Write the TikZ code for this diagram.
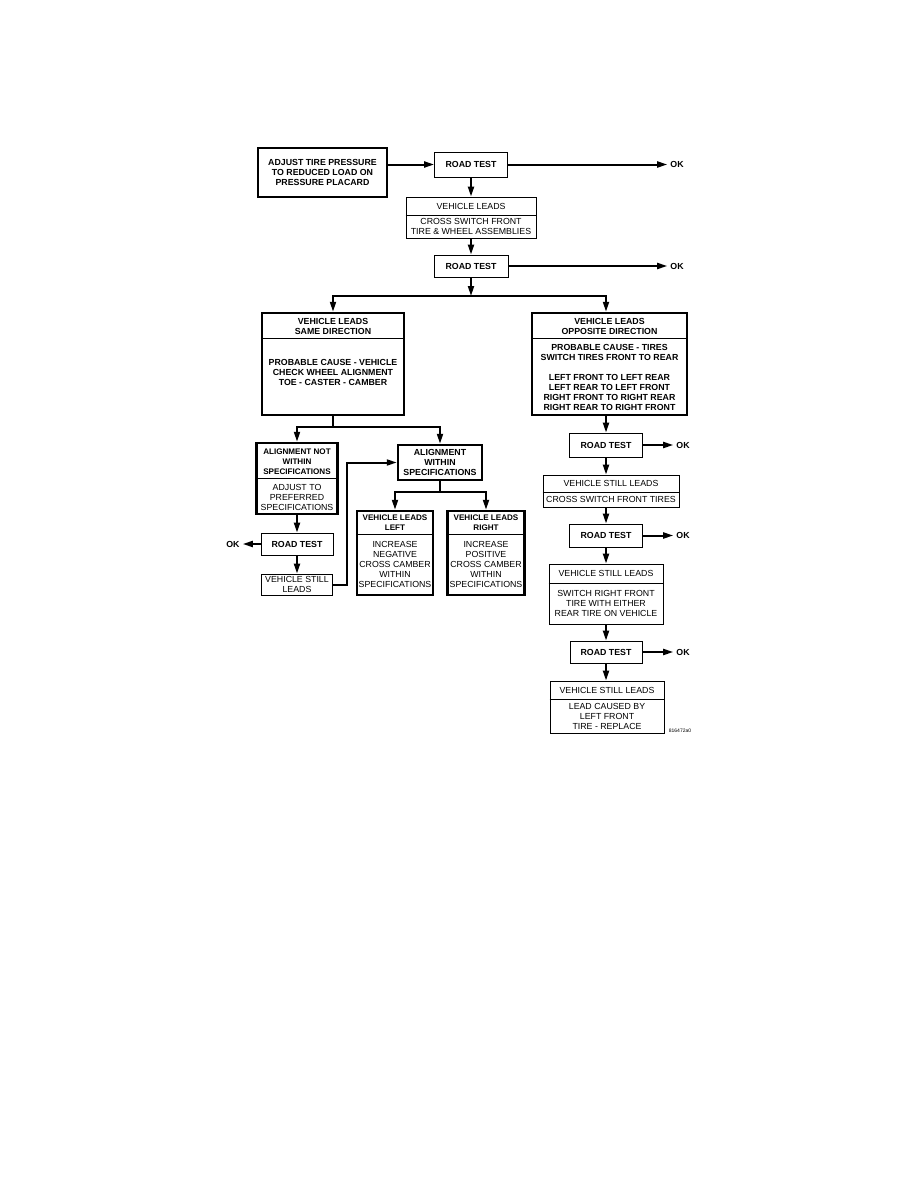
\documentclass[tikz,border=0pt]{standalone}
\usepackage{fontspec}
\setmainfont{Liberation Sans}
\usetikzlibrary{arrows.meta}

\begin{document}
\begin{tikzpicture}[x=1pt,y=-1pt,
    font=\fontsize{8.8}{10}\selectfont,
    thickbox/.style={draw,line width=2.5pt,inner sep=0pt},
    thinbox/.style={draw,line width=0.8pt,inner sep=0pt},
    txt/.style={align=center,inner sep=0pt},
    hd/.style={txt,font=\fontsize{8.8}{10}\selectfont\bfseries},
    hdsm/.style={txt,font=\fontsize{8.1}{10}\selectfont\bfseries},
    divider/.style={line width=0.8pt},
    line/.style={line width=2pt},
    fork/.style={line,line cap=rect},
    arr/.style={line,-{Triangle[length=10pt,width=6pt]}},
    ok/.style={hd,inner sep=3pt}]
  \useasboundingbox (0,0) rectangle (918,1188);

  % top column
  \node[thickbox,hd,minimum width=129pt,minimum height=49pt] (adjust) at (322.5,172.5)
    {ADJUST TIRE PRESSURE\\TO REDUCED LOAD ON\\PRESSURE PLACARD};
  \node[thinbox,hd,minimum width=73pt,minimum height=25pt] (rta) at (471,164.5) {ROAD TEST};
  \node[ok] (oka) at (677,164.5) {OK};

  \node[thinbox,minimum width=130pt,minimum height=41pt] (leads) at (471,217.5) {};
  \draw[divider] (leads.west |- 0,215) -- (leads.east |- 0,215);
  \node[txt] (leads-h) at (471,206) {VEHICLE LEADS};
  \node[txt] (leads-b) at (471,226.5) {CROSS SWITCH FRONT\\TIRE \& WHEEL ASSEMBLIES};

  \node[thinbox,hd,minimum width=74pt,minimum height=22pt] (rtb) at (471,266) {ROAD TEST};
  \node[ok] (okb) at (677,266) {OK};

  \draw[arr] (adjust.east |- rta.west) -- (rta.west);
  \draw[arr] (rta) -- (oka);
  \draw[arr] (rta) -- (leads);
  \draw[arr] (leads) -- (rtb);
  \draw[arr] (rtb) -- (okb);

  % same direction
  \node[thickbox,minimum width=142pt,minimum height=102pt] (same) at (333,364) {};
  \draw[divider] (same.west |- 0,338) -- (same.east |- 0,338);
  \node[hd] (same-h) at (333,326) {VEHICLE LEADS\\SAME DIRECTION};
  \node[hd] (same-b) at (333,372) {PROBABLE CAUSE - VEHICLE\\CHECK WHEEL ALIGNMENT\\TOE - CASTER - CAMBER};

  % opposite direction
  \node[thickbox,minimum width=155pt,minimum height=102pt] (opp) at (609.5,364) {};
  \draw[divider] (opp.west |- 0,338) -- (opp.east |- 0,338);
  \node[hd] (opp-h) at (609.5,326) {VEHICLE LEADS\\OPPOSITE DIRECTION};
  \node[hd] (opp-b) at (609.5,377) {PROBABLE CAUSE - TIRES\\SWITCH TIRES FRONT TO REAR\\[10pt]
    LEFT FRONT TO LEFT REAR\\LEFT REAR TO LEFT FRONT\\RIGHT FRONT TO RIGHT REAR\\RIGHT REAR TO RIGHT FRONT};

  % right column
  \node[thinbox,hd,minimum width=73pt,minimum height=24pt] (rtd) at (606,445) {ROAD TEST};
  \node[ok] (okd) at (683,445) {OK};

  \node[thinbox,minimum width=136pt,minimum height=32pt] (stillb) at (611,491) {};
  \draw[divider] (stillb.west |- 0,492) -- (stillb.east |- 0,492);
  \node[txt] (stillb-h) at (611,483.5) {VEHICLE STILL LEADS};
  \node[txt] (stillb-b) at (611,499.5) {CROSS SWITCH FRONT TIRES};

  \node[thinbox,hd,minimum width=73pt,minimum height=23pt] (rte) at (606,535.5) {ROAD TEST};
  \node[ok] (oke) at (683,535.5) {OK};

  \node[thinbox,minimum width=114pt,minimum height=60pt] (stillc) at (606,594) {};
  \draw[divider] (stillc.west |- 0,583) -- (stillc.east |- 0,583);
  \node[txt] (stillc-h) at (606,573.5) {VEHICLE STILL LEADS};
  \node[txt] (stillc-b) at (606,603.5) {SWITCH RIGHT FRONT\\TIRE WITH EITHER\\REAR TIRE ON VEHICLE};

  \node[thinbox,hd,minimum width=72pt,minimum height=22pt] (rtf) at (606,652) {ROAD TEST};
  \node[ok] (okf) at (683,652) {OK};

  \node[thinbox,minimum width=114pt,minimum height=52pt] (stilld) at (607,707) {};
  \draw[divider] (stilld.west |- 0,699) -- (stilld.east |- 0,699);
  \node[txt] (stilld-h) at (607,690) {VEHICLE STILL LEADS};
  \node[txt] (stilld-b) at (607,716) {LEAD CAUSED BY\\LEFT FRONT\\TIRE - REPLACE};

  \node[txt,font=\fontsize{5}{6}\selectfont] (figno) at (680,731) {816472a0};

  % left branch
  \node[thickbox,minimum width=81pt,minimum height=71pt] (notin) at (297,478.5) {};
  \draw[divider] (notin.west |- 0,478) -- (notin.east |- 0,478);
  \node[hdsm] (notin-h) at (297,462) {ALIGNMENT NOT\\WITHIN\\SPECIFICATIONS};
  \node[txt] (notin-b) at (297,497) {ADJUST TO\\PREFERRED\\SPECIFICATIONS};

  \node[thinbox,hd,minimum width=72pt,minimum height=22pt] (rtc) at (297,544) {ROAD TEST};
  \node[ok] (okc) at (233,544) {OK};
  \node[thinbox,txt,minimum width=71pt,minimum height=21pt] (stilla) at (297,584.5) {VEHICLE STILL\\LEADS};

  \node[thickbox,hd,minimum width=84pt,minimum height=35pt] (within) at (440,462.5)
    {ALIGNMENT\\WITHIN\\SPECIFICATIONS};

  \node[thickbox,minimum width=76pt,minimum height=84pt] (vleft) at (395,553) {};
  \draw[divider] (vleft.west |- 0,534) -- (vleft.east |- 0,534);
  \node[hdsm] (vleft-h) at (395,523) {VEHICLE LEADS\\LEFT};
  \node[txt] (vleft-b) at (395,564) {INCREASE\\NEGATIVE\\CROSS CAMBER\\WITHIN\\SPECIFICATIONS};

  \node[thickbox,minimum width=77pt,minimum height=84pt] (vright) at (486,553) {};
  \draw[divider] (vright.west |- 0,534) -- (vright.east |- 0,534);
  \node[hdsm] (vright-h) at (486,523) {VEHICLE LEADS\\RIGHT};
  \node[txt] (vright-b) at (486,564) {INCREASE\\POSITIVE\\CROSS CAMBER\\WITHIN\\SPECIFICATIONS};

  % connectors
  \coordinate (forka) at (471,296);
  \draw[arr] (rtb) -- (forka);
  \draw[fork] (forka -| same) -- (forka -| rtd);
  \draw[arr] (forka -| same) -- (same);
  \draw[arr] (forka -| rtd) -- (rtd |- opp.north);

  \draw[arr] (opp.south -| rtd) -- (rtd);
  \draw[arr] (rtd) -- (okd);
  \draw[arr] (rtd.south) -- (rtd.south |- stillb.north);
  \draw[arr] (stillb.south -| rte) -- (rte);
  \draw[arr] (rte) -- (oke);
  \draw[arr] (rte) -- (stillc);
  \draw[arr] (stillc) -- (rtf);
  \draw[arr] (rtf) -- (okf);
  \draw[arr] (rtf.south) -- (rtf.south |- stilld.north);

  \coordinate (forkb) at (333,427);
  \draw[line] (same) -- (forkb);
  \draw[fork] (forkb -| notin) -- (forkb -| within);
  \draw[arr] (forkb -| notin) -- (notin);
  \draw[arr] (forkb -| within) -- (within);

  \draw[arr] (notin) -- (rtc);
  \draw[arr] (rtc) -- (okc);
  \draw[arr] (rtc) -- (stilla);
  \draw[arr] (stilla.east) -- ++(14,0) |- (within.west);

  \coordinate (forkc) at (440,492);
  \draw[line] (within) -- (forkc);
  \draw[fork] (forkc -| vleft) -- (forkc -| vright);
  \draw[arr] (forkc -| vleft) -- (vleft);
  \draw[arr] (forkc -| vright) -- (vright);
\end{tikzpicture}
\end{document}
